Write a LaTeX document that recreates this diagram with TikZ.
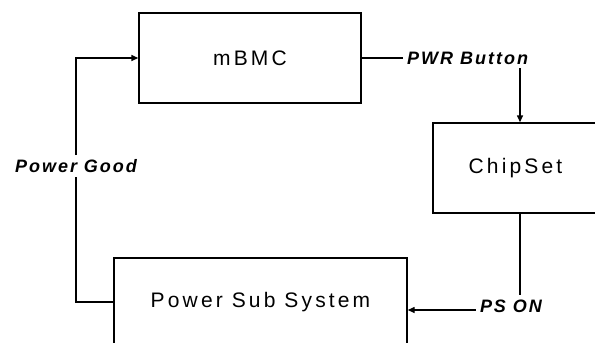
\documentclass[tikz,border=0pt]{standalone}
\usepackage{fontspec}
\setmainfont{Liberation Sans}
\newfontfamily\boxfont[LetterSpace=15]{Liberation Sans}
\newfontfamily\labfont[LetterSpace=11]{Liberation Sans}
\usetikzlibrary{arrows.meta}
\begin{document}
\begin{tikzpicture}[x=1pt,y=-1pt,
  blk/.style={draw,line width=1.4pt,inner sep=0pt,font=\boxfont\fontsize{21}{25}\selectfont},
  lab/.style={inner sep=4pt,font=\labfont\bfseries\itshape\fontsize{18}{21}\selectfont},
  wire/.style={line width=1.4pt},
  arr/.style={wire,-{Triangle[length=7pt,width=6pt]}}]
\useasboundingbox (0,0) rectangle (595,343);
\clip (0,0) rectangle (595,343);
\node[blk,minimum width=222pt,minimum height=90pt] (mbmc) at (250,58) {mBMC};
\node[blk,minimum width=165pt,minimum height=90pt] (chip) at (515.5,168) {ChipSet};
\node[blk,minimum width=293pt,minimum height=88pt] (pss) at (260.5,302) {Power Sub System};
\node[lab] (pg) at (76,166) {Power Good};
\node[lab,anchor=west] (pwr) at (403,58) {PWR Button};
\node[lab] (pson) at (511,306) {PS ON};
\coordinate (xa) at (520,0);
\coordinate (ya) at (0,310);
\draw[wire] (pss.west) -| (pg.south);
\draw[arr] (pg.north) |- (mbmc.west);
\draw[wire] (mbmc.east) -- (pwr.west);
\draw[arr] (pwr.south -| xa) -- (chip.north -| xa);
\draw[wire] (chip.south -| xa) -- (pson.north -| xa);
\draw[arr] (pson.west |- ya) -- (pss.east |- ya);
\end{tikzpicture}
\end{document}
